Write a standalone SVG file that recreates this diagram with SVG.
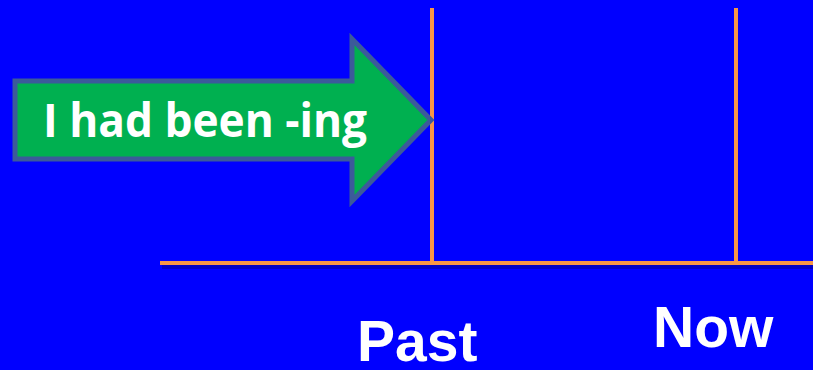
<svg xmlns="http://www.w3.org/2000/svg" width="813" height="370" viewBox="0 0 813 370">
<style>
.tl{stroke:#F79646;stroke-width:4;fill:none}
.lbl{font-family:"Liberation Sans",Arial,sans-serif;font-weight:bold;font-size:57px;fill:#FFFFFF}
</style>
<rect width="813" height="370" fill="#0000FF"/>
<g id="connectors">
<line x1="162" y1="267" x2="813" y2="267" stroke="#0000A0" stroke-width="4" stroke-opacity="0.6"/>
<line class="tl" x1="160" y1="263" x2="813" y2="263"/>
<line class="tl" x1="432" y1="8" x2="432" y2="263"/>
<line class="tl" x1="736" y1="8" x2="736" y2="263"/>
</g>
<g id="arrow">
<polygon points="15,81 352,81 352,39 431,120 352,201 352,159 15,159" fill="#00B050" stroke="#3C5A9A" stroke-width="5" stroke-linejoin="miter"/>
<text x="43" y="137" font-family="'Open Sans','Noto Sans',sans-serif" font-weight="bold" font-size="46" fill="#FFFFFF" textLength="324" lengthAdjust="spacingAndGlyphs">I had been -ing</text>
</g>
<g id="past"><text class="lbl" x="357" y="361">Past</text></g>
<g id="now"><text class="lbl" x="653" y="347">Now</text></g>
</svg>
